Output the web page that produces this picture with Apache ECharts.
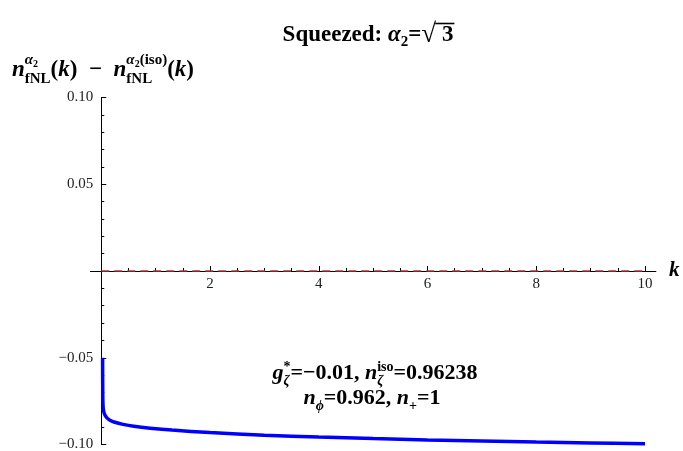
<!DOCTYPE html>
<html>
<head>
<meta charset="utf-8">
<style>
  html, body { margin: 0; padding: 0; background: #fff; }
  #chart { width: 683px; height: 451px; }
</style>
<script src="https://cdn.jsdelivr.net/npm/echarts@6/dist/echarts.min.js"></script>
</head>
<body>
<div id="chart"></div>
<script>
// data
var kValues = [0.025, 0.026, 0.028, 0.032, 0.04, 0.06, 0.1, 0.16, 0.25, 0.4, 0.6, 0.9, 1.3, 2, 3, 4, 5, 6, 7, 8, 9, 10];
var diffValues = [-0.050, -0.060, -0.070, -0.077, -0.080, -0.0825, -0.0845, -0.086, -0.0872, -0.0884, -0.0895, -0.0906, -0.0917, -0.0931, -0.0946, -0.0957, -0.0966, -0.0974, -0.0980, -0.0986, -0.0991, -0.0996];
var isoK = [0, 10];
var isoValues = [0, 0];
var xTicks = [2, 4, 6, 8, 10];
var yTicks = [-0.10, -0.05, 0.05, 0.10];

var serif = '"Liberation Serif", "DejaVu Serif", serif';
var ctx = document.createElement('canvas').getContext('2d');

function fontOf(p) { return (p.style || 'bold') + ' ' + p.size + 'px ' + serif; }

// lay out text pieces on a baseline; a run of stack:true pieces sits over the previous script run
function textRow(x0, baseline, parts, center) {
  var x = x0, runStart = x0, stackX = null, stackEnd = x0, placed = [];
  parts.forEach(function(p) {
    ctx.font = fontOf(p);
    var w = ctx.measureText(p.text).width;
    var px;
    if (p.stack) {
      if (stackX === null) { stackX = runStart; stackEnd = runStart; }
      px = stackX; stackX += w;
      stackEnd = Math.max(stackEnd, stackX);
      x = Math.max(x, stackEnd);
    } else {
      stackX = null;
      px = x; runStart = x; x += w;
    }
    placed.push({ p: p, x: px, w: w });
  });
  var shift = center ? -(x - x0) / 2 : 0;
  placed.forEach(function(it) { it.x += shift; });
  return placed;
}

function toGraphic(placed, baseline) {
  return placed.map(function(it) {
    var p = it.p;
    return {
      type: 'text',
      x: it.x,
      y: baseline + (p.dy || 0) - 0.33 * p.size,
      style: { text: p.text, font: fontOf(p), fill: '#000', verticalAlign: 'middle', align: 'left' },
      z: 10
    };
  });
}

var chart = echarts.init(document.getElementById('chart'), null, { renderer: 'canvas' });

var graphics = [];
// title
var titleRow = textRow(368, 43, [
  { text: 'Squeezed: ', size: 23 },
  { text: 'α', size: 23, style: 'italic bold' },
  { text: '2', size: 15, dy: 4 },
  { text: '=', size: 23 },
  { text: '√', size: 27, style: 'normal', dy: 1 },
  { text: ' 3', size: 23 }
], true);
graphics = graphics.concat(toGraphic(titleRow, 43));
var rad = titleRow[4], three = titleRow[5];
graphics.push({
  type: 'line', z: 10,
  shape: { x1: rad.x + rad.w - 1, y1: 23.5, x2: three.x + three.w + 1, y2: 23.5 },
  style: { stroke: '#000', lineWidth: 1.6 }
});

// y-axis name
var nameRow = textRow(12, 78, [
  { text: 'n', size: 23, style: 'italic bold' },
  { text: 'fNL', size: 15, dy: 6 },
  { text: 'α', size: 15, style: 'italic bold', dy: -13, stack: true },
  { text: '2', size: 10, dy: -10, stack: true },
  { text: '(', size: 23 },
  { text: 'k', size: 23, style: 'italic bold' },
  { text: ')  −  ', size: 23 },
  { text: 'n', size: 23, style: 'italic bold' },
  { text: 'fNL', size: 15, dy: 6 },
  { text: 'α', size: 15, style: 'italic bold', dy: -13, stack: true },
  { text: '2', size: 10, dy: -10, stack: true },
  { text: '(iso)', size: 15, dy: -13, stack: true },
  { text: '(', size: 23 },
  { text: 'k', size: 23, style: 'italic bold' },
  { text: ')', size: 23 }
], false);
graphics = graphics.concat(toGraphic(nameRow, 78));

// annotation
var line1 = textRow(375, 381, [
  { text: 'g', size: 22, style: 'italic bold' },
  { text: 'ζ', size: 14, style: 'italic bold', dy: 5 },
  { text: '*', size: 14, dy: -9, stack: true },
  { text: '=−0.01, ', size: 22 },
  { text: 'n', size: 22, style: 'italic bold' },
  { text: 'iso', size: 14, dy: -9 },
  { text: 'ζ', size: 14, style: 'italic bold', dy: 5, stack: true },
  { text: '=0.96238', size: 22 }
], true);
graphics = graphics.concat(toGraphic(line1, 381));
var line2 = textRow(372, 406, [
  { text: 'n', size: 22, style: 'italic bold' },
  { text: 'ϕ', size: 14, style: 'italic bold', dy: 5 },
  { text: '=0.962, ', size: 22 },
  { text: 'n', size: 22, style: 'italic bold' },
  { text: '+', size: 14, dy: 5 },
  { text: '=1', size: 22 }
], true);
graphics = graphics.concat(toGraphic(line2, 406));

var noBounds = { outerBoundsMode: 'none', containLabel: false };

chart.setOption({
  animation: false,
  backgroundColor: '#fff',
  graphic: graphics,
  grid: [
    // long axis line at y = 0 (slightly wider than the data range)
    Object.assign({ left: 90.4, right: 27.1, top: 97.5, bottom: 180 }, noBounds),
    // data area
    Object.assign({ left: 101.25, right: 38, top: 97.5, bottom: 6.5 }, noBounds),
    // ticks and labels of k, sitting on y = 0
    Object.assign({ left: 101.25, right: 38, top: 97.5, bottom: 180 }, noBounds)
  ],
  xAxis: [
    {
      gridIndex: 0, type: 'value', min: -0.2, max: 10.2, position: 'bottom',
      axisLine: { onZero: false, lineStyle: { color: '#000', width: 1 } },
      axisTick: { show: false }, axisLabel: { show: false }, splitLine: { show: false },
      name: 'k', nameLocation: 'end', nameGap: 13,
      nameTextStyle: { fontFamily: serif, fontSize: 21, fontWeight: 'bold', fontStyle: 'italic', color: '#000', verticalAlign: 'middle' }
    },
    { gridIndex: 1, type: 'value', min: 0, max: 10, show: false },
    {
      gridIndex: 2, type: 'value', min: 0, max: 10, interval: 2, position: 'bottom',
      axisLine: { show: false, onZero: false },
      axisTick: { inside: true, length: 5, lineStyle: { color: '#000' } },
      minorTick: { show: true, splitNumber: 4, length: 3, lineStyle: { color: '#000' } },
      axisLabel: {
        margin: 6, fontFamily: serif, fontSize: 15, color: '#222',
        customValues: xTicks,
        formatter: function(v) { return v === 0 ? '' : String(v); }
      },
      splitLine: { show: false }
    }
  ],
  yAxis: [
    { gridIndex: 0, type: 'value', min: -0.1, max: 0.1, show: false },
    {
      gridIndex: 1, type: 'value', min: -0.1, max: 0.1, interval: 0.05,
      axisLine: { show: true, onZero: false, lineStyle: { color: '#000', width: 1 } },
      axisTick: { inside: true, length: 5, lineStyle: { color: '#000' } },
      minorTick: { show: true, splitNumber: 5, length: 3, lineStyle: { color: '#000' } },
      axisLabel: {
        margin: 8, fontFamily: serif, fontSize: 15, color: '#222',
        customValues: yTicks,
        formatter: function(v) {
          if (Math.abs(v) < 1e-9) return '';
          return v.toFixed(2).replace('-', '−');
        }
      },
      splitLine: { show: false }
    },
    { gridIndex: 2, type: 'value', min: 0, max: 1, show: false }
  ],
  series: [
    {
      type: 'line', xAxisIndex: 1, yAxisIndex: 1,
      data: isoK.map(function(k, i) { return [k, isoValues[i]]; }),
      symbol: 'none',
      lineStyle: { color: '#b0303a', width: 1.4, type: [8, 5] },
      z: 3
    },
    {
      type: 'line', xAxisIndex: 1, yAxisIndex: 1,
      data: kValues.map(function(k, i) { return [k, diffValues[i]]; }),
      symbol: 'none', smooth: 0.3,
      lineStyle: { color: '#0000ff', width: 3.5 },
      z: 4
    }
  ]
});
</script>
</body>
</html>
